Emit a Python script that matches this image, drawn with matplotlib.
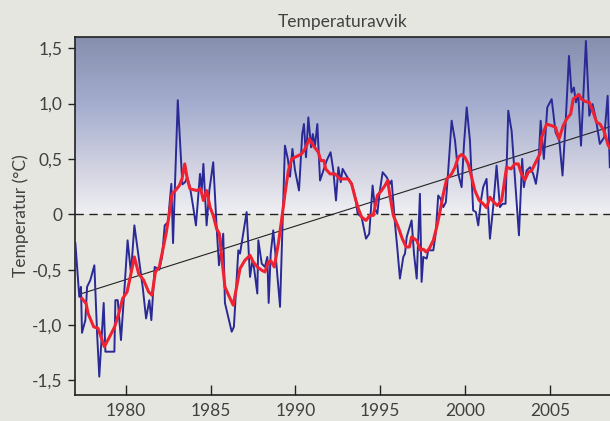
import numpy as np
import matplotlib
matplotlib.use("Agg")
import matplotlib.pyplot as plt
from matplotlib.colors import LinearSegmentedColormap

# ---- data ----
blue_years = [1977.02, 1977.25, 1977.35, 1977.41, 1977.61, 1977.71, 1977.90, 1978.14, 1978.30, 1978.43,
              1978.69, 1978.79, 1979.32, 1979.38, 1979.52, 1979.71, 1979.91, 1980.10, 1980.30, 1980.50,
              1980.75, 1980.99, 1981.19, 1981.38, 1981.50, 1981.70, 1981.97, 1982.13, 1982.29, 1982.48,
              1982.68, 1982.78, 1983.06, 1983.33, 1983.49, 1983.62, 1983.78, 1983.97, 1984.13, 1984.37,
              1984.47, 1984.57, 1984.76, 1984.92, 1985.15, 1985.35, 1985.49, 1985.59, 1985.74, 1985.84,
              1986.24, 1986.37, 1986.63, 1986.73, 1986.92, 1987.12, 1987.32, 1987.45, 1987.55, 1987.75,
              1987.81, 1988.01, 1988.20, 1988.34, 1988.42, 1988.54, 1988.69, 1988.89, 1989.09, 1989.38,
              1989.55, 1989.68, 1989.82, 1989.97, 1990.21, 1990.40, 1990.50, 1990.62, 1990.76, 1990.92,
              1991.02, 1991.15, 1991.29, 1991.45, 1991.58, 1991.84, 1992.07, 1992.23, 1992.39, 1992.53,
              1992.67, 1992.78, 1993.06, 1993.31, 1993.51, 1993.67, 1993.90, 1994.04, 1994.16, 1994.35,
              1994.55, 1994.69, 1994.83, 1994.94, 1995.14, 1995.38, 1995.57, 1995.67, 1995.87, 1996.00,
              1996.16, 1996.36, 1996.46, 1996.56, 1996.85, 1996.99, 1997.15, 1997.34, 1997.44, 1997.54,
              1997.74, 1997.83, 1998.13, 1998.27, 1998.42, 1998.56, 1998.72, 1998.87, 1999.01, 1999.21,
              1999.41, 1999.60, 1999.80, 1999.94, 2000.10, 2000.29, 2000.48, 2000.64, 2000.78, 2000.94,
              2001.07, 2001.27, 2001.47, 2001.66, 2001.86, 2002.06, 2002.21, 2002.39, 2002.55, 2002.75,
              2002.94, 2003.18, 2003.37, 2003.47, 2003.63, 2003.83, 2004.02, 2004.18, 2004.32, 2004.46,
              2004.65, 2004.85, 2005.11, 2005.34, 2005.56, 2005.75, 2005.93, 2006.13, 2006.28, 2006.42,
              2006.54, 2006.68, 2006.84, 2007.13, 2007.33, 2007.52, 2007.72, 2007.95, 2008.21, 2008.41,
              2008.54]
blue_vals = [-0.26, -0.745, -0.655, -1.07, -0.955, -0.655, -0.595, -0.46, -1.07, -1.465,
             -0.80, -1.24, -1.24, -0.775, -0.775, -1.135, -0.685, -0.235, -0.53, -0.10,
             -0.385, -0.655, -0.94, -0.775, -0.955, -0.475, -0.50, -0.385, -0.10, -0.07,
             0.275, -0.26, 1.03, 0.27, 0.29, 0.335, 0.245, 0.065, -0.10, 0.365,
             0.215, 0.455, -0.10, 0.215, 0.47, -0.115, -0.46, -0.355, -0.175, -0.80,
             -1.06, -1.015, -0.325, -0.355, -0.175, 0.02, -0.565, -0.43, -0.475, -0.715,
             -0.235, -0.445, -0.475, -0.385, -0.80, -0.355, -0.145, -0.475, -0.835, 0.62,
             0.50, 0.34, 0.59, 0.40, 0.215, 0.725, 0.815, 0.515, 0.875, 0.605,
             0.725, 0.62, 0.815, 0.305, 0.365, 0.485, 0.56, 0.40, 0.125, 0.425,
             0.29, 0.41, 0.335, 0.275, 0.17, 0.005, -0.025, -0.13, -0.22, -0.175,
             0.26, 0.05, 0.005, 0.17, 0.38, 0.335, 0.275, 0.305, -0.085, -0.295,
             -0.58, -0.385, -0.355, -0.205, -0.055, -0.355, -0.58, 0.185, -0.61, -0.385,
             -0.40, -0.325, -0.325, -0.175, 0.17, 0.14, 0.065, 0.11, 0.395, 0.845,
             0.665, 0.365, 0.245, 0.635, 0.965, 0.665, 0.035, 0.02, -0.10, 0.125,
             0.245, 0.32, -0.22, 0.065, 0.44, 0.065, 0.095, 0.095, 0.935, 0.75,
             0.335, -0.19, 0.50, 0.245, 0.395, 0.425, 0.365, 0.275, 0.425, 0.845,
             0.50, 0.965, 1.04, 0.74, 0.665, 0.35, 0.815, 1.43, 1.10, 1.145,
             1.01, 1.085, 0.62, 1.565, 0.89, 0.995, 0.86, 0.635, 0.695, 1.07,
             0.425]

red_years = [1977.41, 1977.65, 1977.77, 1978.10, 1978.36, 1978.73, 1978.99, 1979.34, 1979.58, 1979.81,
             1980.07, 1980.26, 1980.50, 1980.75, 1981.05, 1981.34, 1981.54, 1981.74, 1981.97, 1982.13,
             1982.37, 1982.56, 1982.72, 1982.92, 1983.15, 1983.31, 1983.47, 1983.62, 1983.78, 1984.17,
             1984.41, 1984.57, 1984.76, 1984.96, 1985.15, 1985.35, 1985.51, 1985.65, 1985.84, 1986.10,
             1986.33, 1986.53, 1986.73, 1987.02, 1987.32, 1987.51, 1987.75, 1988.01, 1988.20, 1988.40,
             1988.55, 1988.75, 1988.99, 1989.18, 1989.38, 1989.58, 1989.78, 1989.97, 1990.36, 1990.56,
             1990.82, 1991.05, 1991.35, 1991.49, 1991.68, 1991.78, 1992.04, 1992.33, 1992.63, 1993.11,
             1993.31, 1993.51, 1993.71, 1993.90, 1994.16, 1994.39, 1994.59, 1994.83, 1995.08, 1995.28,
             1995.44, 1995.57, 1995.77, 1996.06, 1996.30, 1996.53, 1996.72, 1996.85, 1997.15, 1997.38,
             1997.54, 1997.70, 1997.89, 1998.13, 1998.33, 1998.52, 1998.72, 1998.92, 1999.21, 1999.41,
             1999.60, 1999.80, 1999.99, 2000.19, 2000.39, 2000.58, 2000.84, 2001.07, 2001.27, 2001.47,
             2001.70, 2001.90, 2002.16, 2002.45, 2002.71, 2002.94, 2003.14, 2003.33, 2003.53, 2003.73,
             2003.93, 2004.12, 2004.42, 2004.52, 2004.81, 2005.11, 2005.34, 2005.54, 2005.79, 2005.99,
             2006.23, 2006.38, 2006.53, 2006.72, 2006.87, 2007.07, 2007.33, 2007.50, 2007.76, 2007.96,
             2008.19, 2008.45, 2008.55]
red_vals = [-0.76, -0.805, -0.895, -1.015, -1.03, -1.195, -1.12, -1.015, -0.895, -0.76,
            -0.70, -0.565, -0.385, -0.535, -0.595, -0.70, -0.73, -0.52, -0.475, -0.355,
            -0.175, 0.005, 0.185, 0.215, 0.26, 0.32, 0.455, 0.32, 0.23, 0.215,
            0.23, 0.125, 0.215, 0.065, -0.01, -0.13, -0.175, -0.385, -0.655, -0.745,
            -0.82, -0.655, -0.49, -0.415, -0.37, -0.43, -0.475, -0.505, -0.52, -0.43,
            -0.42, -0.475, -0.265, -0.055, 0.185, 0.395, 0.50, 0.515, 0.545, 0.59,
            0.68, 0.62, 0.56, 0.485, 0.485, 0.41, 0.365, 0.365, 0.32, 0.32,
            0.275, 0.155, 0.05, -0.025, -0.055, -0.01, -0.01, 0.17, 0.215, 0.26,
            0.305, 0.17, -0.01, -0.115, -0.22, -0.295, -0.295, -0.205, -0.235, -0.325,
            -0.315, -0.34, -0.31, -0.235, -0.115, 0.02, 0.185, 0.32, 0.365, 0.425,
            0.515, 0.54, 0.515, 0.455, 0.335, 0.215, 0.125, 0.095, 0.06, 0.155,
            0.11, 0.08, 0.125, 0.425, 0.41, 0.455, 0.455, 0.365, 0.31, 0.38,
            0.395, 0.455, 0.545, 0.695, 0.815, 0.80, 0.785, 0.68, 0.80, 0.86,
            0.905, 1.04, 1.06, 1.08, 1.04, 1.02, 1.01, 0.95, 0.83, 0.815,
            0.755, 0.62, 0.60]

trend_years = [1977.3, 2008.55]
trend_vals = [-0.72, 0.79]

x_ticks = [1980, 1985, 1990, 1995, 2000, 2005]
y_ticks = [-1.5, -1.0, -0.5, 0.0, 0.5, 1.0, 1.5]
y_ticklabels = ["-1,5", "-1,0", "-0,5", "0", "0,5", "1,0", "1,5"]

title = "Temperaturavvik"
ylabel = "Temperatur (°C)"

# ---- figure ----
plt.rcParams['font.family'] = ['Lato', 'DejaVu Sans']
bg = '#e6e6e1'
txt = '#404040'

fig = plt.figure(figsize=(6.10, 4.21), dpi=100, facecolor=bg)
ax = fig.add_axes([0.123, 0.062, 0.877, 0.850], facecolor=bg)

xmin, xmax = 1977.0, 2008.55
ymin, ymax = -1.63, 1.60
ax.set_xlim(xmin, xmax)
ax.set_ylim(ymin, ymax)

cmap = LinearSegmentedColormap.from_list(
    'sky', [(0.0, '#efeff3'), (0.25, '#d3d3e2'), (0.6, '#a6afcf'), (1.0, '#858ead')])
grad = np.linspace(0, 1, 256).reshape(-1, 1)
ax.imshow(grad, extent=[xmin, xmax, 0, ymax], origin='lower', aspect='auto',
          cmap=cmap, zorder=0, interpolation='bilinear')

ax.axhline(0, color='#222222', lw=1.0, ls=(0, (6, 4)), zorder=2)
ax.plot(trend_years, trend_vals, color='#222222', lw=0.8, zorder=3)
ax.plot(blue_years, blue_vals, color='#2a2a96', lw=1.4, zorder=4)
ax.plot(red_years, red_vals, color='#ee2230', lw=2.2, zorder=5)

ax.set_xticks(x_ticks)
ax.set_xticklabels([str(t) for t in x_ticks])
ax.set_yticks(y_ticks)
ax.set_yticklabels(y_ticklabels)
ax.tick_params(axis='x', direction='in', length=7, width=1, colors='#222222',
               labelcolor=txt, labelsize=12.5, pad=6)
ax.tick_params(axis='y', direction='out', length=5, width=1, colors='#222222',
               labelcolor=txt, labelsize=12.5, pad=4)

for s in ['left', 'bottom', 'top']:
    ax.spines[s].set_color('#222222')
    ax.spines[s].set_linewidth(1.2)
ax.spines['right'].set_visible(False)

ax.set_title(title, color=txt, fontsize=12.5, pad=7)
ax.set_ylabel(ylabel, color=txt, fontsize=12.5, labelpad=2)

fig.savefig('out.png', dpi=100, facecolor=bg)
